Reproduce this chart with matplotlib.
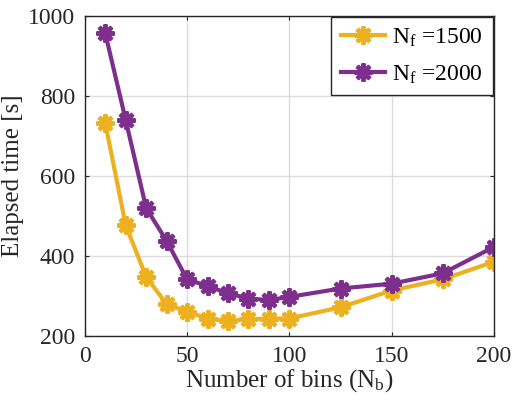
import numpy as np
import matplotlib
matplotlib.use('Agg')
import matplotlib.pyplot as plt

# 数据
n_bins = [10, 20, 30, 40, 50, 60, 70, 80, 90, 100, 125, 150, 175, 200]
time_1500 = [732, 477, 348, 280, 261, 244, 238, 242, 244, 244, 272, 314, 342, 386]
time_2000 = [957, 740, 520, 438, 342, 325, 307, 294, 290, 298, 319, 331, 357, 423]
labels = ['N$_\\mathrm{f}$ =1500', 'N$_\\mathrm{f}$ =2000']

# 字体：Times 风格
plt.rcParams['font.family'] = ['Liberation Serif', 'DejaVu Serif']
plt.rcParams['mathtext.fontset'] = 'custom'
plt.rcParams['mathtext.rm'] = 'Liberation Serif'
plt.rcParams['mathtext.it'] = 'Liberation Serif:italic'

fig = plt.figure(figsize=(5.14, 4.03), dpi=100)
ax = fig.add_axes([0.165, 0.166, 0.796, 0.794])

star = (8, 2, 0)
ax.plot(n_bins, time_1500, color='#EDB120', lw=3, marker=star, ms=13, mew=3, label=labels[0])
ax.plot(n_bins, time_2000, color='#7E2F8E', lw=3, marker=star, ms=13, mew=3, label=labels[1])

ax.set_xlim(0, 200)
ax.set_ylim(200, 1000)
ax.set_xticks(np.arange(0, 201, 50))
ax.set_yticks(np.arange(200, 1001, 200))
ax.grid(color='#dcdcdc', linewidth=1)
ax.set_axisbelow(True)
ax.tick_params(direction='in', top=True, right=True, labelsize=17, length=3,
               pad=7, colors='#262626')
for s in ax.spines.values():
    s.set_color('#262626')
    s.set_linewidth(1)

ax.set_xlabel('Number of bins (N$_\\mathrm{b}$)', fontsize=18, color='#262626', labelpad=0)
ax.set_ylabel('Elapsed time [s]', fontsize=18, color='#262626', labelpad=3)

leg = ax.legend(loc='upper right', fontsize=17, fancybox=False, framealpha=1,
                edgecolor='#262626', borderaxespad=0.05, handlelength=1.9,
                handletextpad=0.3, labelspacing=0.6, borderpad=0.4)
leg.get_frame().set_linewidth(1)

plt.savefig('out.png', dpi=100)
plt.close()
